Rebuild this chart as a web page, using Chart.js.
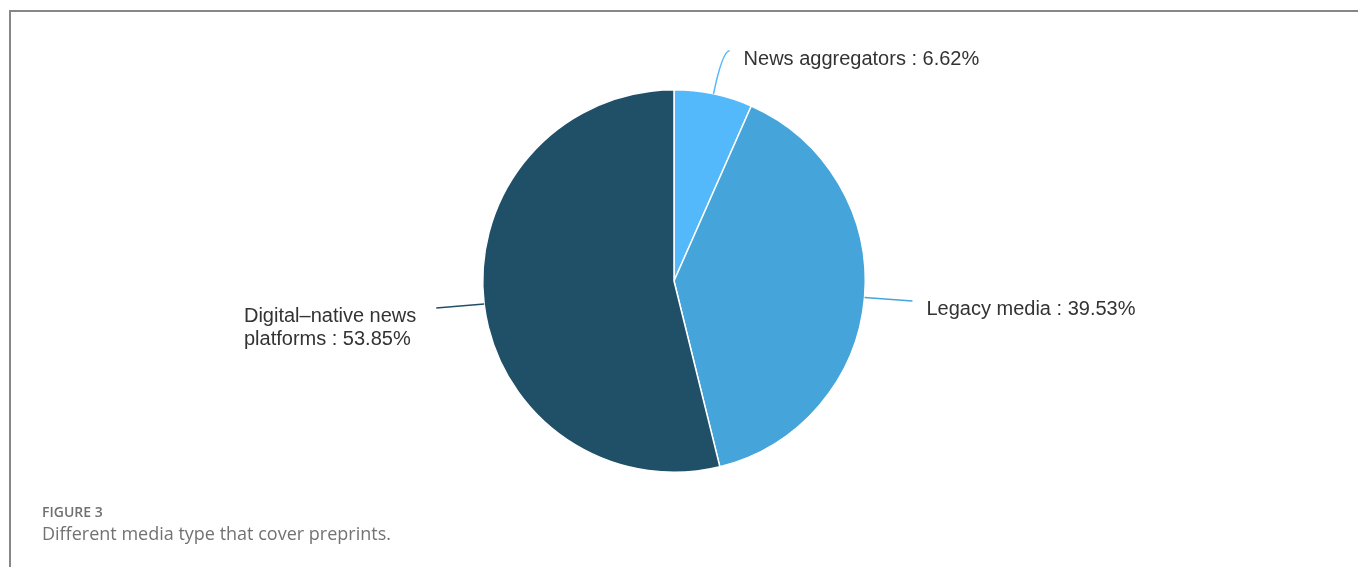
<!DOCTYPE html>
<html>
<head>
<meta charset="utf-8">
<script src="https://cdn.jsdelivr.net/npm/chart.js@4.4.1/dist/chart.umd.min.js"></script>
<style>
  html, body { margin: 0; padding: 0; background: #fff; }
  body { width: 1358px; height: 567px; position: relative; overflow: hidden; }
  #frame {
    position: absolute; left: 9px; top: 10px; right: -4px; bottom: -4px;
    border-top: 2px solid #878787; border-left: 2px solid #878787;
  }
  #chartBox { position: absolute; left: 0; top: 0; width: 1358px; height: 567px; }
  .caption { position: absolute; left: 42px; font-family: "Open Sans", sans-serif; }
  #figNo { top: 502px; font-size: 14px; font-weight: 600; color: #707070; }
  #figText { top: 521px; font-size: 18px; font-weight: 400; color: #727272; }
</style>
</head>
<body>
<div id="frame"></div>
<div id="chartBox"><canvas id="mediaChart" width="1358" height="567"></canvas></div>
<div class="caption" id="figNo">FIGURE 3</div>
<div class="caption" id="figText">Different media type that cover preprints.</div>
<script>
// media types and their share of preprint coverage (%)
const categories = ['News aggregators', 'Legacy media', 'Digital–native news platforms'];
const shares = [6.62, 39.53, 53.85];
const sliceColors = ['#54b9fa', '#45a5da', '#1f5068'];
// label text lines shown next to each slice
const labelLines = [
    ['News aggregators : 6.62%'],
    ['Legacy media : 39.53%'],
    ['Digital–native news', 'platforms : 53.85%']
];

// leader line settings per slice: radial length, horizontal length, curved or not
const leaders = [
    { out: 44, run: 7, smooth: true },
    { out: 16, run: 32, smooth: false },
    { out: 16, run: 32, smooth: false }
];

const calloutPlugin = {
    id: 'callouts',
    afterDatasetsDraw(chart) {
        const ctx = chart.ctx;
        const arcs = chart.getDatasetMeta(0).data;
        ctx.save();
        ctx.font = '20px "Liberation Sans", Arial, sans-serif';
        arcs.forEach(function (arc, i) {
            const mid = (arc.startAngle + arc.endAngle) / 2;
            const r = arc.outerRadius;
            const cos = Math.cos(mid), sin = Math.sin(mid);
            const right = cos >= 0;
            const x0 = arc.x + r * cos, y0 = arc.y + r * sin;
            const x1 = arc.x + (r + leaders[i].out) * cos, y1 = arc.y + (r + leaders[i].out) * sin;
            const x2 = x1 + (right ? leaders[i].run : -leaders[i].run);
            const y2 = leaders[i].smooth ? y1 : y1 + 2;

            ctx.strokeStyle = sliceColors[i];
            ctx.lineWidth = 1.5;
            ctx.beginPath();
            ctx.moveTo(x0, y0);
            if (leaders[i].smooth) {
                ctx.quadraticCurveTo(x1, y1, x2, y2);
            } else {
                ctx.lineTo(x2, y2);
            }
            ctx.stroke();

            const lines = labelLines[i];
            const widest = Math.max.apply(null, lines.map(t => ctx.measureText(t).width));
            const tx = right ? x2 + 14 : x2 - 20 - widest;
            ctx.fillStyle = '#333';
            ctx.textAlign = 'left';
            ctx.textBaseline = 'alphabetic';
            lines.forEach(function (t, k) {
                ctx.fillText(t, tx, y2 + 14 + k * 23);
            });
        });
        ctx.restore();
    }
};

new Chart(document.getElementById('mediaChart'), {
    type: 'pie',
    data: {
        labels: categories,
        datasets: [{
            data: shares,
            backgroundColor: sliceColors,
            borderColor: '#ffffff',
            borderWidth: 1.5
        }]
    },
    options: {
        responsive: false,
        animation: false,
        layout: { padding: { left: 0, right: 10, top: 89, bottom: 94 } },
        plugins: {
            legend: { display: false },
            tooltip: { enabled: false }
        }
    },
    plugins: [calloutPlugin]
});
</script>
</body>
</html>
